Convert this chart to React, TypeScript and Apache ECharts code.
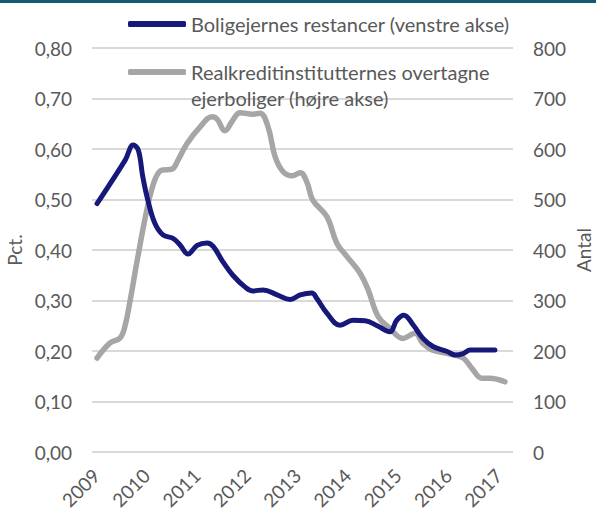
import React, { useEffect, useRef } from "react";
import * as echarts from "echarts";

// Year labels on the x axis
const yearLabels = [2009, 2010, 2011, 2012, 2013, 2014, 2015, 2016, 2017];

// Boligejernes restancer (pct., left axis)
const restancerDates = [
  2009.02, 2009.58, 2009.74, 2009.84, 2009.93, 2010.03, 2010.17, 2010.33, 2010.53, 2010.67,
  2010.83, 2011.01, 2011.21, 2011.33, 2011.52, 2011.72, 2011.96, 2012.12, 2012.32, 2012.6,
  2012.86, 2013.06, 2013.29, 2013.39, 2013.59, 2013.85, 2014.11, 2014.35, 2014.59, 2014.84,
  2014.98, 2015.12, 2015.31, 2015.5, 2015.7, 2015.98, 2016.14, 2016.3, 2016.44, 2016.93,
];
const restancerValues = [
  0.492, 0.578, 0.608, 0.598, 0.545, 0.499, 0.453, 0.43, 0.423, 0.41,
  0.392, 0.409, 0.414, 0.407, 0.377, 0.35, 0.327, 0.319, 0.321, 0.311,
  0.302, 0.311, 0.315, 0.304, 0.275, 0.251, 0.261, 0.26, 0.25, 0.238,
  0.261, 0.271, 0.251, 0.225, 0.209, 0.199, 0.192, 0.195, 0.202, 0.202,
];

// Realkreditinstitutternes overtagne ejerboliger (antal, right axis)
const overtagneDates = [
  2009.02, 2009.28, 2009.48, 2009.58, 2009.68, 2009.82, 2010.01, 2010.17, 2010.31, 2010.51,
  2010.63, 2010.81, 2011.07, 2011.31, 2011.41, 2011.56, 2011.72, 2011.86, 2012.12, 2012.26,
  2012.42, 2012.56, 2012.72, 2012.9, 2013.06, 2013.19, 2013.31, 2013.59, 2013.79, 2013.99,
  2014.25, 2014.41, 2014.61, 2014.84, 2015.1, 2015.34, 2015.5, 2015.68, 2016.04, 2016.3,
  2016.47, 2016.67, 2016.83, 2017.13,
];
const overtagneValues = [
  186, 216, 226, 251, 301, 380, 479, 539, 558, 560,
  578, 611, 644, 664, 659, 636, 657, 672, 669, 671,
  644, 585, 555, 547, 553, 535, 499, 466, 413, 387,
  354, 321, 268, 245, 225, 235, 215, 202, 194, 186,
  166, 146, 146, 139,
];

const seriesNames = [
  "Boligejernes restancer (venstre akse)",
  "Realkreditinstitutternes overtagne ejerboliger (højre akse)",
];

const FONT = "Lato";
const TEXT = "#595959";

export default function App() {
  const ref = useRef<HTMLDivElement>(null);

  useEffect(() => {
    if (!ref.current) return;
    const chart = echarts.init(ref.current, null, { renderer: "svg" });
    const blue = restancerDates.map((d, i) => [d, restancerValues[i]]);
    const gray = overtagneDates.map((d, i) => [d, overtagneValues[i]]);

    chart.setOption({
      animation: false,
      backgroundColor: "#ffffff",
      textStyle: { fontFamily: FONT, color: TEXT },
      graphic: [
        {
          type: "rect",
          left: 0,
          top: 0,
          shape: { width: 596, height: 3 },
          style: { fill: "#145a70" },
        },
      ],
      grid: { left: 92, right: 83, top: 48, bottom: 60, outerBoundsMode: "none", containLabel: false },
      legend: [
        {
          data: [seriesNames[0]],
          left: 128,
          top: 12,
          padding: 0,
          itemWidth: 58,
          itemHeight: 6,
          icon: "roundRect",
          textStyle: { fontFamily: FONT, fontSize: 20, color: TEXT, lineHeight: 24 },
        },
        {
          data: [seriesNames[1]],
          left: 128,
          top: 33,
          padding: 0,
          itemWidth: 58,
          itemHeight: 6,
          icon: "roundRect",
          formatter: (name: string) => "\n" + name.replace(" ejerboliger", "\nejerboliger"),
          textStyle: { fontFamily: FONT, fontSize: 20, color: TEXT, lineHeight: 26 },
        },
      ],
      xAxis: {
        type: "value",
        min: 2008.92,
        max: 2017.29,
        axisLine: { show: false },
        axisTick: { show: false },
        splitLine: { show: false },
        axisLabel: {
          customValues: yearLabels,
          rotate: 45,
          margin: 20,
          fontFamily: FONT,
          fontSize: 19,
          color: TEXT,
          formatter: (v: number) => String(Math.round(v)),
        },
      },
      yAxis: [
        {
          type: "value",
          min: 0,
          max: 0.8,
          interval: 0.1,
          name: "Pct.",
          nameLocation: "middle",
          nameRotate: 90,
          nameGap: 68,
          nameMoveOverlap: false,
          nameTextStyle: { fontFamily: FONT, fontSize: 19, color: TEXT },
          axisLine: { show: false },
          axisTick: { show: false },
          splitLine: { lineStyle: { color: "#d9d9d9", width: 2 } },
          axisLabel: {
            margin: 20,
            fontFamily: FONT,
            fontSize: 19,
            color: TEXT,
            formatter: (v: number) => v.toFixed(2).replace(".", ","),
          },
        },
        {
          type: "value",
          min: 0,
          max: 800,
          interval: 100,
          position: "right",
          name: "Antal",
          nameLocation: "middle",
          nameRotate: 90,
          nameGap: 60,
          nameMoveOverlap: false,
          nameTextStyle: { fontFamily: FONT, fontSize: 19, lineHeight: 20, color: TEXT },
          axisLine: { show: false },
          axisTick: { show: false },
          splitLine: { show: false },
          axisLabel: { margin: 20, fontFamily: FONT, fontSize: 19, color: TEXT },
        },
      ],
      series: [
        {
          name: seriesNames[1],
          type: "line",
          yAxisIndex: 1,
          data: gray,
          smooth: 0.4,
          showSymbol: false,
          itemStyle: { color: "#a6a6a6" },
          lineStyle: { color: "#a6a6a6", width: 5.5, cap: "round", join: "round" },
        },
        {
          name: seriesNames[0],
          type: "line",
          yAxisIndex: 0,
          data: blue,
          smooth: 0.4,
          showSymbol: false,
          itemStyle: { color: "#16187a" },
          lineStyle: { color: "#16187a", width: 5, cap: "round", join: "round" },
        },
      ],
    });
    return () => chart.dispose();
  }, []);

  return (
    <div
      ref={ref}
      style={{ position: "fixed", left: 0, top: 0, width: 596, height: 512, background: "#fff" }}
    />
  );
}
